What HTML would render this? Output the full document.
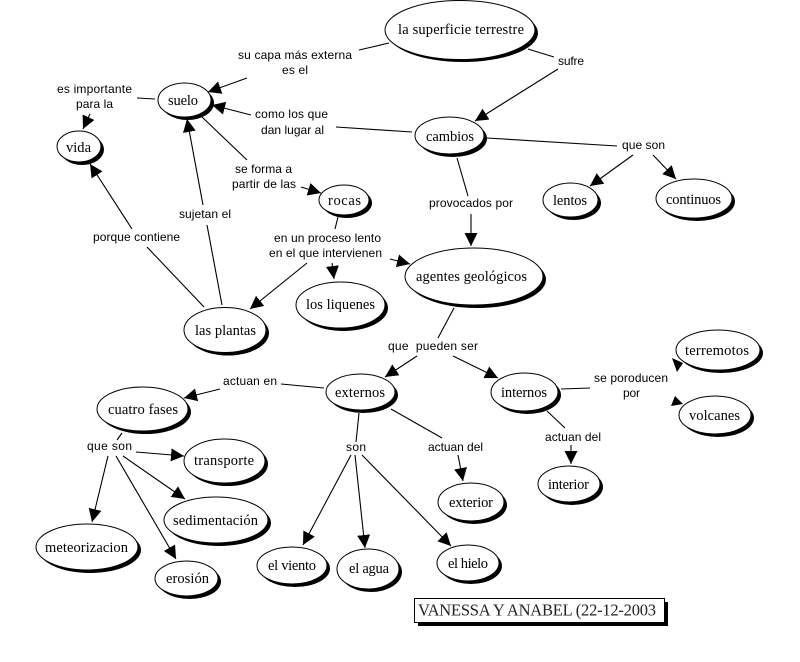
<!DOCTYPE html>
<html lang="es"><head><meta charset="utf-8"><title>Mapa conceptual</title>
<style>
html,body{margin:0;padding:0;background:#fff;width:800px;height:662px;overflow:hidden}
svg{display:block}
.e0{fill:#000}
.e1{fill:#fff;stroke:#000;stroke-width:1}
.l{stroke:#000;stroke-width:1.1;fill:none}
.a{stroke:#000;stroke-width:1.1;fill:none;marker-end:url(#m)}
.n{font:14.5px "Liberation Serif",serif;fill:#000;dominant-baseline:central;transform:translateY(1px)}
.t{font:12px "Liberation Sans",sans-serif;fill:#000;dominant-baseline:central}
</style></head><body>
<svg width="800" height="662" viewBox="0 0 800 662" xmlns="http://www.w3.org/2000/svg">
<defs><marker id="m" markerUnits="userSpaceOnUse" markerWidth="15" markerHeight="14" refX="13" refY="6.5" orient="auto"><path d="M0,0 L13,6.5 L0,13 z" fill="#000"/></marker></defs>
<rect width="800" height="662" fill="#fff"/>

<!-- connectors -->
<path class="l" d="M389,43L359,50"/>
<path class="a" d="M247,78L208,92"/>
<path class="l" d="M137,98L155,99"/>
<path class="a" d="M90,114L83,129"/>
<path class="a" d="M251,115L212,105"/>
<path class="l" d="M336,127L412,132"/>
<path class="l" d="M202,117L247,160"/>
<path class="a" d="M301,187L321,193"/>
<path class="l" d="M338,217L335,229"/>
<path class="a" d="M390,259L410,264"/>
<path class="a" d="M307,263L250,309"/>
<path class="a" d="M332,263L334,279"/>
<path class="l" d="M222,305L207,225"/>
<path class="a" d="M203,205L187,119"/>
<path class="l" d="M204,307L147,247"/>
<path class="a" d="M132,229L90,164"/>
<path class="l" d="M528,49L554,57"/>
<path class="a" d="M558,69L475,121"/>
<path class="l" d="M487,138L617,146"/>
<path class="a" d="M633,155L590,186"/>
<path class="a" d="M653,155L676,179"/>
<path class="l" d="M457,158L468,196"/>
<path class="a" d="M471,214L471,246"/>
<path class="l" d="M454,308L438,338"/>
<path class="a" d="M417,356L385,377"/>
<path class="a" d="M453,356L498,378"/>
<path class="l" d="M324,388L281,384"/>
<path class="a" d="M220,389L184,398"/>
<path class="l" d="M122,433L117,440"/>
<path class="a" d="M136,452L184,456"/>
<path class="a" d="M123,456L185,499"/>
<path class="a" d="M116,456L176,559"/>
<path class="a" d="M108,456L92,522"/>
<path class="l" d="M359,413L356,442"/>
<path class="a" d="M351,455L303,545"/>
<path class="a" d="M355,455L365,548"/>
<path class="a" d="M362,455L451,546"/>
<path class="l" d="M391,409L442,438"/>
<path class="a" d="M458,455L463,481"/>
<path class="l" d="M561,389L590,388"/>
<path class="l" d="M547,411L565,428"/>
<path class="a" d="M571,445L571,464"/>
<path d="M672,358L683,363L677,372z" fill="#000"/>
<path d="M675,396L683,404L671,406z" fill="#000"/>

<!-- nodes -->
<ellipse class="e0" cx="463" cy="33" rx="75" ry="29"/><ellipse class="e1" cx="460" cy="30" rx="75" ry="29.5"/>
<ellipse class="e0" cx="187.500" cy="103" rx="26.500" ry="17"/><ellipse class="e1" cx="184.500" cy="100" rx="26.500" ry="17"/>
<ellipse class="e0" cx="82" cy="149.500" rx="22" ry="15.500"/><ellipse class="e1" cx="79" cy="146.500" rx="22" ry="15.500"/>
<ellipse class="e0" cx="347" cy="203" rx="25" ry="15"/><ellipse class="e1" cx="344" cy="200" rx="25" ry="15"/>
<ellipse class="e0" cx="343.500" cy="308" rx="44.500" ry="23"/><ellipse class="e1" cx="340.500" cy="305" rx="44.500" ry="23"/>
<ellipse class="e0" cx="228" cy="333" rx="41" ry="22.500"/><ellipse class="e1" cx="225" cy="330" rx="41" ry="22.500"/>
<ellipse class="e0" cx="452.500" cy="138.500" rx="34.500" ry="18.500"/><ellipse class="e1" cx="449.500" cy="135.500" rx="34.500" ry="18.500"/>
<ellipse class="e0" cx="573.500" cy="203" rx="27.500" ry="17"/><ellipse class="e1" cx="570.500" cy="200" rx="27.500" ry="17"/>
<ellipse class="e0" cx="697" cy="201.500" rx="38" ry="19.500"/><ellipse class="e1" cx="694" cy="198.500" rx="38" ry="19.500"/>
<ellipse class="e0" cx="477" cy="279.500" rx="69" ry="28.500"/><ellipse class="e1" cx="474" cy="276.500" rx="69" ry="28.500"/>
<ellipse class="e0" cx="363.500" cy="395" rx="34.500" ry="18"/><ellipse class="e1" cx="360.500" cy="392" rx="34.500" ry="18"/>
<ellipse class="e0" cx="145.500" cy="412" rx="45.500" ry="22"/><ellipse class="e1" cx="142.500" cy="409" rx="45.500" ry="22"/>
<ellipse class="e0" cx="227.500" cy="464" rx="40.500" ry="22"/><ellipse class="e1" cx="224.500" cy="461" rx="40.500" ry="22"/>
<ellipse class="e0" cx="219" cy="523" rx="52" ry="23"/><ellipse class="e1" cx="216" cy="520" rx="52" ry="23"/>
<ellipse class="e0" cx="90" cy="550" rx="51" ry="23"/><ellipse class="e1" cx="87" cy="547" rx="51" ry="23"/>
<ellipse class="e0" cx="189.500" cy="581.500" rx="31.500" ry="17.500"/><ellipse class="e1" cx="186.500" cy="578.500" rx="31.500" ry="17.500"/>
<ellipse class="e0" cx="295" cy="568.500" rx="35" ry="18.500"/><ellipse class="e1" cx="292" cy="565.500" rx="35" ry="18.500"/>
<ellipse class="e0" cx="371" cy="572" rx="31" ry="20"/><ellipse class="e1" cx="368" cy="569" rx="31" ry="20"/>
<ellipse class="e0" cx="527.500" cy="395" rx="33.500" ry="19"/><ellipse class="e1" cx="524.500" cy="392" rx="33.500" ry="19"/>
<ellipse class="e0" cx="721" cy="353" rx="42" ry="20"/><ellipse class="e1" cx="718" cy="350" rx="42" ry="20"/>
<ellipse class="e0" cx="718" cy="418" rx="36" ry="19"/><ellipse class="e1" cx="715" cy="415" rx="36" ry="19"/>
<ellipse class="e0" cx="572" cy="487" rx="31" ry="18"/><ellipse class="e1" cx="569" cy="484" rx="31" ry="18"/>
<ellipse class="e0" cx="474" cy="505" rx="33" ry="19"/><ellipse class="e1" cx="471" cy="502" rx="33" ry="19"/>
<ellipse class="e0" cx="471" cy="566" rx="31" ry="18"/><ellipse class="e1" cx="468" cy="563" rx="31" ry="18"/>

<rect x="418" y="602" width="250" height="24" fill="#000"/>
<rect x="414.500" y="598.500" width="250" height="24" fill="#fff" stroke="#000"/>

<!-- node text -->
<text class="n" x="398" y="29" textLength="126">la superficie terrestre</text>
<text class="n" x="168" y="100" textLength="30">suelo</text>
<text class="n" x="66" y="147" textLength="25">vida</text>
<text class="n" x="328" y="200" textLength="33">rocas</text>
<text class="n" x="306" y="304" textLength="69">los liquenes</text>
<text class="n" x="195" y="330" textLength="61">las plantas</text>
<text class="n" x="426" y="136" textLength="48">cambios</text>
<text class="n" x="553" y="200" textLength="34">lentos</text>
<text class="n" x="666" y="199" textLength="55">continuos</text>
<text class="n" x="416" y="276" textLength="111">agentes geológicos</text>
<text class="n" x="335" y="392" textLength="50">externos</text>
<text class="n" x="108" y="409" textLength="70">cuatro fases</text>
<text class="n" x="194" y="460" textLength="60">transporte</text>
<text class="n" x="173" y="520" textLength="85">sedimentación</text>
<text class="n" x="45" y="547" textLength="83">meteorizacion</text>
<text class="n" x="166" y="578" textLength="43">erosión</text>
<text class="n" x="268" y="565" textLength="48">el viento</text>
<text class="n" x="349" y="568" textLength="40">el agua</text>
<text class="n" x="501" y="392" textLength="46">internos</text>
<text class="n" x="685" y="350" textLength="64">terremotos</text>
<text class="n" x="689" y="415" textLength="51">volcanes</text>
<text class="n" x="548" y="484" textLength="41">interior</text>
<text class="n" x="449" y="502" textLength="44">exterior</text>
<text class="n" x="448" y="563" textLength="40">el hielo</text>
<text class="n" style="font-size:16.5px;fill:#222" x="418" y="609" textLength="238">VANESSA Y ANABEL (22-12-2003</text>

<!-- linking phrases -->
<text class="t" x="238" y="55" textLength="114">su capa más externa</text>
<text class="t" x="282" y="70" textLength="26">es el</text>
<text class="t" x="57" y="89" textLength="75">es importante</text>
<text class="t" x="76" y="104" textLength="37">para la</text>
<text class="t" x="255" y="114" textLength="73">como los que</text>
<text class="t" x="261" y="130" textLength="63">dan lugar al</text>
<text class="t" x="235" y="169" textLength="57">se forma a</text>
<text class="t" x="232" y="184" textLength="64">partir de las</text>
<text class="t" x="179" y="214" textLength="52">sujetan el</text>
<text class="t" x="93" y="237" textLength="87">porque contiene</text>
<text class="t" x="274" y="238" textLength="107">en un proceso lento</text>
<text class="t" x="269" y="253" textLength="113">en el que intervienen</text>
<text class="t" x="558" y="61" textLength="26">sufre</text>
<text class="t" x="622" y="145" textLength="43">que son</text>
<text class="t" x="429" y="203" textLength="84">provocados por</text>
<text class="t" x="388" y="346" textLength="90" xml:space="preserve">que  pueden ser</text>
<text class="t" x="223" y="381" textLength="54">actuan en</text>
<text class="t" x="87" y="446" textLength="45">que son</text>
<text class="t" x="346" y="447" textLength="20">son</text>
<text class="t" x="428" y="447" textLength="55">actuan del</text>
<text class="t" x="545" y="437" textLength="56">actuan del</text>
<text class="t" x="594" y="378" textLength="74">se poroducen</text>
<text class="t" x="623" y="393" textLength="17">por</text>
</svg>
</body></html>
